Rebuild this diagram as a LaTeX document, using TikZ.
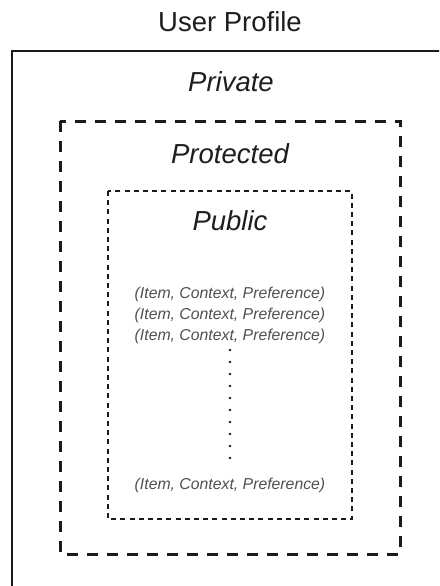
\documentclass[tikz,border=0pt]{standalone}
\usepackage{fontspec}
\setmainfont{Liberation Sans}
\definecolor{titlegray}{HTML}{1E1E1E}
\definecolor{tuplegray}{HTML}{505050}
\definecolor{linegray}{HTML}{1A1A1A}
\begin{document}
\begin{tikzpicture}[x=1pt,y=1pt,
  title/.style={anchor=base,inner sep=0pt,text=titlegray,font=\fontsize{27.5}{32}\selectfont},
  ititle/.style={title,font=\fontsize{27.5}{32}\selectfont\itshape},
  tuple/.style={anchor=base,inner sep=0pt,text=tuplegray,font=\fontsize{15.8}{18}\selectfont\itshape},
  outerbox/.style={draw=linegray,line width=2pt},
  protbox/.style={draw=linegray,line width=3pt,dash pattern=on 11pt off 9pt},
  pubbox/.style={draw=linegray,line width=1.4pt,dash pattern=on 5pt off 4.2pt},
  dotmark/.style={circle,fill=linegray,inner sep=0pt,minimum size=2.6pt}]
\useasboundingbox (0,0) rectangle (439,-586);
\clip (0,0) rectangle (439,-586);
\fill[white] (0,0) rectangle (439,-586);
% boxes
\draw[outerbox] (12,-592) -- (12,-51) -- (445,-51);
\draw[protbox] (60,-121) rectangle (400,-554);
\draw[pubbox] (108,-191) rectangle (352,-519);
% titles
\node[title] (user) at (230,-32) {User Profile};
\node[ititle] (priv) at (231,-91) {Private};
\node[ititle] (prot) at (230,-163) {Protected};
\node[ititle] (pub) at (230,-230) {Public};
% tuples
\node[tuple] (t1) at (230,-298) {(Item, Context, Preference)};
\node[tuple] (t2) at (230,-319) {(Item, Context, Preference)};
\node[tuple] (t3) at (230,-340) {(Item, Context, Preference)};
\node[tuple] (tn) at (230,-489) {(Item, Context, Preference)};
% dots
\foreach \i in {0,...,9} {
  \node[dotmark] (d\i) at (230,-350-12*\i) {};
}
\end{tikzpicture}
\end{document}
